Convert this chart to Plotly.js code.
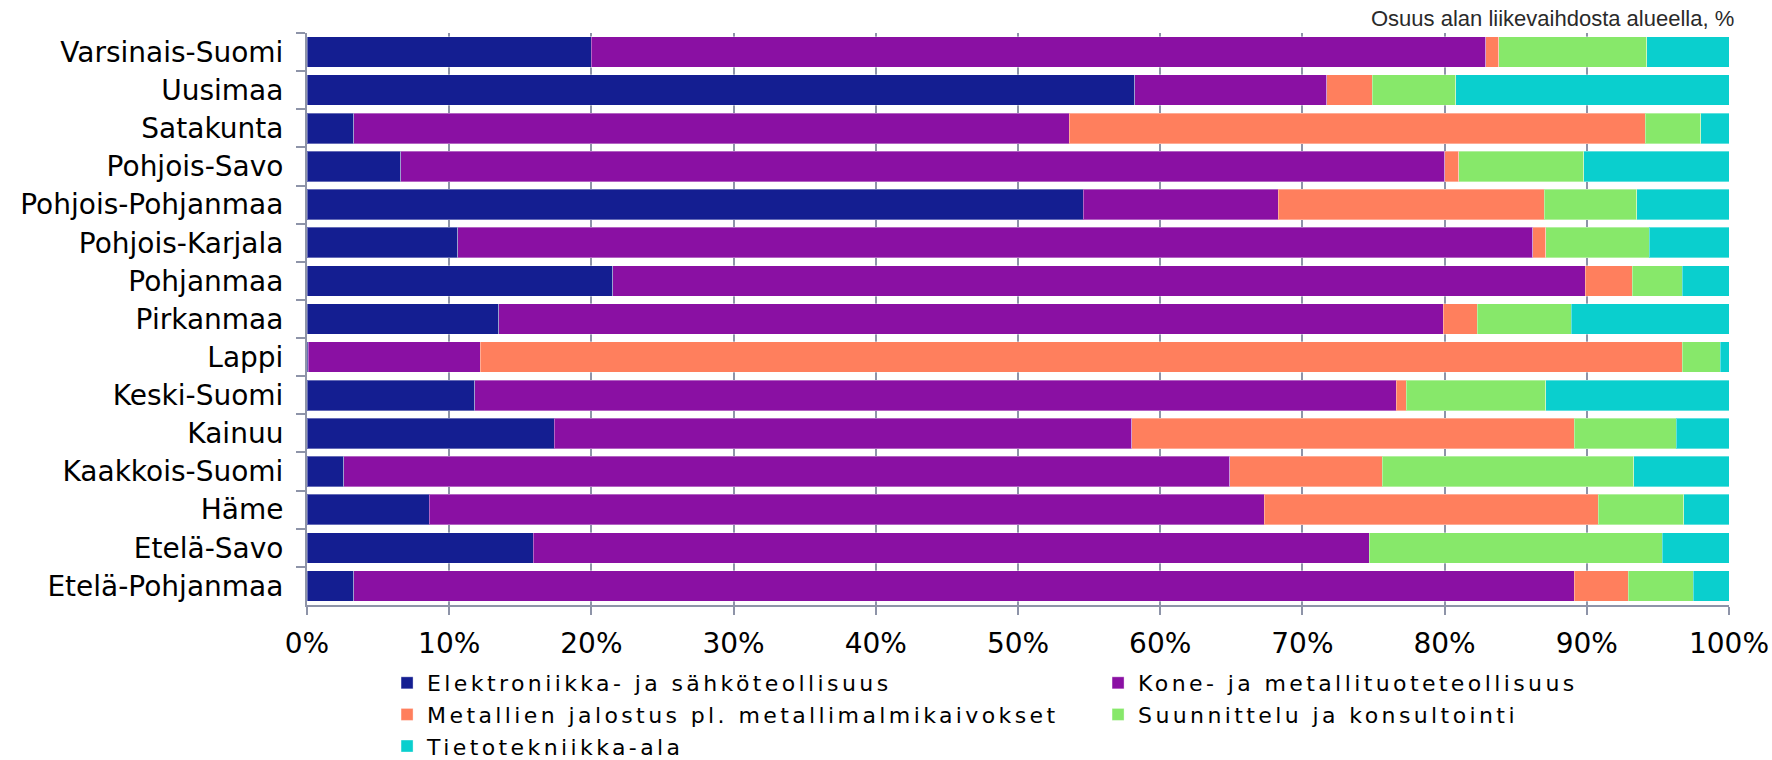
<!DOCTYPE html>
<html>
<head>
<meta charset="utf-8">
<script src="https://cdn.plot.ly/plotly-3.0.1.min.js"></script>
<style>
html,body{margin:0;padding:0;background:#fff;}
#chart{width:1772px;height:760px;}
text.legendtext{letter-spacing:3.4px !important;}
</style>
</head>
<body>
<div id="chart"></div>
<script>
const regions = ["Varsinais-Suomi","Uusimaa","Satakunta","Pohjois-Savo","Pohjois-Pohjanmaa","Pohjois-Karjala","Pohjanmaa","Pirkanmaa","Lappi","Keski-Suomi","Kainuu","Kaakkois-Suomi","Häme","Etelä-Savo","Etelä-Pohjanmaa"];

const elektroniikka = [20.0, 58.2, 3.3, 6.6, 54.6, 10.6, 21.5, 13.5, 0.1, 11.8, 17.4, 2.6, 8.6, 15.9, 3.3];
const kone          = [62.9, 13.5, 50.3, 73.4, 13.7, 75.6, 68.4, 66.4, 12.1, 64.8, 40.6, 62.3, 58.7, 58.8, 85.8];
const metallien     = [0.9, 3.2, 40.5, 1.0, 18.7, 0.9, 3.3, 2.4, 84.5, 0.7, 31.1, 10.7, 23.5, 0.0, 3.8];
const suunnittelu   = [10.4, 5.9, 3.9, 8.8, 6.5, 7.3, 3.5, 6.6, 2.7, 9.8, 7.2, 17.7, 6.0, 20.6, 4.6];
const tietotekniikka= [5.8, 19.2, 2.0, 10.2, 6.5, 5.6, 3.3, 11.1, 0.6, 12.9, 3.7, 6.7, 3.2, 4.7, 2.5];

const seriesNames = ["Elektroniikka- ja sähköteollisuus","Kone- ja metallituoteteollisuus","Metallien jalostus pl. metallimalmikaivokset","Suunnittelu ja konsultointi","Tietotekniikka-ala"];
const seriesValues = [elektroniikka, kone, metallien, suunnittelu, tietotekniikka];
const seriesColors = ["#141E91","#8A10A3","#FF7F5D","#87E86A","#0ACFCE"];
// legend column of each series (0 = left, 1 = right)
const seriesLegendCol = [0, 1, 0, 1, 0];

const xTickVals = [0,10,20,30,40,50,60,70,80,90,100];
const xTickText = ["0%","10%","20%","30%","40%","50%","60%","70%","80%","90%","100%"];
const noteText = "Osuus alan liikevaihdosta alueella, %";

const FONT = "DejaVu Sans, Verdana, sans-serif";
const AXIS = "#8E94A8";
const COL_WIDTH = [666, 470];

const traces = seriesNames.map((name, i) => ({
  type: "bar",
  orientation: "h",
  name: name,
  y: regions,
  x: seriesValues[i],
  legendwidth: COL_WIDTH[seriesLegendCol[i]],
  marker: { color: seriesColors[i], line: { color: "rgba(255,255,255,0.35)", width: 1 } },
  hoverinfo: "x+y+name"
}));

const layout = {
  width: 1772, height: 760,
  margin: { l: 307, r: 43, t: 33, b: 155, autoexpand: false },
  paper_bgcolor: "#fff", plot_bgcolor: "#fff",
  barmode: "stack",
  bargap: 0.2,
  font: { family: FONT, size: 24, color: "#000" },
  xaxis: {
    range: [0, 100],
    tickvals: xTickVals, ticktext: xTickText,
    showgrid: true, gridcolor: AXIS, gridwidth: 2,
    showline: true, linecolor: AXIS, linewidth: 2,
    ticks: "outside", ticklen: 8, tickwidth: 2, tickcolor: AXIS,
    ticklabelstandoff: 4,
    zeroline: false, fixedrange: true,
    tickfont: { family: FONT, size: 28, color: "#000" }
  },
  yaxis: {
    type: "category",
    autorange: "reversed",
    showline: true, linecolor: AXIS, linewidth: 2,
    ticks: "outside", ticklen: 9, tickwidth: 2, tickcolor: AXIS,
    tickson: "boundaries",
    ticklabelstandoff: 16,
    showgrid: false, zeroline: false,
    tickfont: { family: FONT, size: 28, color: "#000" }
  },
  showlegend: true,
  legend: {
    orientation: "h",
    x: 0.0563, xanchor: "left",
    y: -0.0997, yanchor: "top",
    traceorder: "normal",
    font: { family: FONT, size: 22, color: "#000" },
    itemwidth: 30,
    bgcolor: "rgba(0,0,0,0)"
  },
  annotations: [{
    text: noteText,
    xref: "paper", yref: "paper",
    x: 1.0, y: 1.0, xanchor: "right", yanchor: "middle",
    xshift: 7, yshift: 15,
    showarrow: false,
    font: { family: "Liberation Sans, Arial, sans-serif", size: 22, color: "#2a2a2a" }
  }]
};

Plotly.newPlot("chart", traces, layout, { displayModeBar: false, staticPlot: true });
</script>
</body>
</html>
